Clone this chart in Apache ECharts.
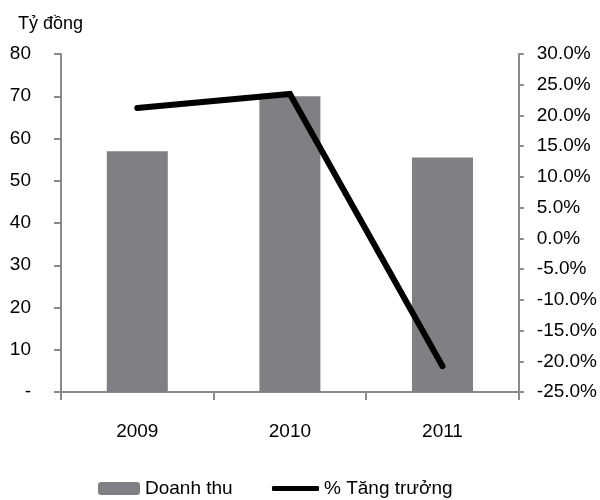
<!DOCTYPE html>
<html>
<head>
<meta charset="utf-8">
<script src="https://cdn.jsdelivr.net/npm/echarts@6/dist/echarts.min.js"></script>
<style>
  html, body { margin: 0; padding: 0; background: #fff; }
  #chart { width: 600px; height: 500px; }
</style>
</head>
<body>
<div id="chart"></div>
<script>
// Revenue (billion VND) and year-on-year growth
const years = ['2009', '2010', '2011'];
const revenue = [57, 70, 55.5];
const growth = [21.2, 23.5, -20.8];
const revenueName = 'Doanh thu';
const growthName = '% Tăng trưởng';
const unitLabel = 'Tỷ đồng';

const axisGray = '#8a8a8e';
const textColor = '#000';
const font = 'Liberation Sans, Arial, sans-serif';

const chart = echarts.init(document.getElementById('chart'), null, { renderer: 'canvas' });
chart.setOption({
  animation: false,
  backgroundColor: '#ffffff',
  textStyle: { fontFamily: font },
  title: {
    text: unitLabel,
    left: 13,
    top: 10,
    textStyle: { fontSize: 18, fontWeight: 'normal', color: textColor, fontFamily: font }
  },
  grid: { left: 61, right: 80, top: 54, bottom: 108, containLabel: false },
  legend: [
    {
      data: [revenueName],
      left: 98, top: 479,
      padding: 0,
      itemWidth: 42, itemHeight: 13,
      itemGap: 0,
      textStyle: { fontSize: 19, color: textColor, fontFamily: font }
    },
    {
      data: [{ name: growthName, icon: 'roundRect' }],
      left: 272, top: 479,
      padding: 0,
      itemWidth: 47, itemHeight: 5,
      itemGap: 0,
      textStyle: { fontSize: 19, color: textColor, fontFamily: font }
    }
  ],
  xAxis: {
    type: 'category',
    data: years,
    boundaryGap: true,
    axisLine: { lineStyle: { color: axisGray, width: 2 } },
    axisTick: { show: true, alignWithLabel: false, length: 8, lineStyle: { color: axisGray, width: 2 } },
    axisLabel: { fontSize: 19, color: textColor, margin: 30, fontFamily: font },
    splitLine: { show: false }
  },
  yAxis: [
    {
      type: 'value',
      min: 0, max: 80, interval: 10,
      position: 'left',
      axisLine: { show: true, lineStyle: { color: axisGray, width: 2 } },
      axisTick: { show: true, inside: false, length: 7, lineStyle: { color: axisGray, width: 2 } },
      axisLabel: {
        fontSize: 19, color: textColor, margin: 30, fontFamily: font,
        formatter: v => (v === 0 ? '-' : String(v))
      },
      splitLine: { show: false }
    },
    {
      type: 'value',
      min: -25, max: 30, interval: 5,
      position: 'right',
      axisLine: { show: true, lineStyle: { color: axisGray, width: 2 } },
      axisTick: { show: true, inside: false, length: 5, lineStyle: { color: axisGray, width: 2 } },
      axisLabel: {
        fontSize: 19, color: textColor, margin: 18, fontFamily: font,
        formatter: v => v.toFixed(1) + '%'
      },
      splitLine: { show: false }
    }
  ],
  series: [
    {
      name: revenueName,
      type: 'bar',
      data: revenue,
      barWidth: 61,
      itemStyle: { color: '#808084' }
    },
    {
      name: growthName,
      type: 'line',
      yAxisIndex: 1,
      data: growth,
      symbol: 'none',
      lineStyle: { color: '#000', width: 6, cap: 'round', join: 'miter' },
      itemStyle: { color: '#000' }
    }
  ]
});
</script>
</body>
</html>
